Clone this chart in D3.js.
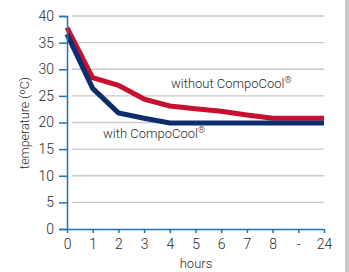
<!DOCTYPE html>
<html>
<head>
<meta charset="utf-8">
<script src="https://cdn.jsdelivr.net/npm/d3@7"></script>
<style>
  body { margin: 0; background: #fff; }
  svg text { font-family: "Roboto", "Liberation Sans Narrow", sans-serif; font-weight: 300; fill: #2a2a2a; }
</style>
</head>
<body>
<svg id="chart" width="349" height="272"></svg>
<script>
// chart data
const hours = ['0', '1', '2', '3', '4', '5', '6', '7', '8', '-', '24'];
const withoutCool = [37.8, 28.4, 27.0, 24.4, 23.1, 22.6, 22.1, 21.4, 20.8, 20.8, 20.8];
const withCool = [36.6, 26.4, 21.8, 20.8, 19.9, 19.9, 19.9, 19.9, 19.9, 19.9, 19.9];
const yTicks = [0, 5, 10, 15, 20, 25, 30, 35, 40];

const svg = d3.select('#chart');
const axisColor = '#1b75bb';

// gray bar on the right edge
svg.append('rect')
    .attr('x', 345).attr('y', 0)
    .attr('width', 4).attr('height', 272)
    .attr('fill', '#c7c7cb');

const x = d3.scalePoint()
    .domain(hours)
    .range([67, 324]);

const y = d3.scaleLinear()
    .domain([0, 40])
    .range([229, 16]);

// gridlines
svg.append('g')
    .selectAll('line')
    .data(yTicks.filter(d => d > 0))
    .enter().append('line')
        .attr('x1', 72).attr('x2', 324)
        .attr('y1', d => y(d)).attr('y2', d => y(d))
        .attr('stroke', '#c9c9c9')
        .attr('stroke-width', 1.3);

// lines
const line = d3.line()
    .x((d, i) => x(hours[i]))
    .y(d => y(d));

svg.append('path')
    .datum(withoutCool)
    .attr('d', line)
    .attr('fill', 'none')
    .attr('stroke', '#c8102e')
    .attr('stroke-width', 5);

svg.append('path')
    .datum(withCool)
    .attr('d', line)
    .attr('fill', 'none')
    .attr('stroke', '#0d2d6c')
    .attr('stroke-width', 5);

// y axis
const yAxis = svg.append('g')
    .attr('transform', 'translate(67,0)')
    .call(d3.axisLeft(y).tickValues(yTicks).tickSize(8).tickPadding(5));
yAxis.select('.domain').attr('stroke', axisColor).attr('stroke-width', 1.5);
yAxis.selectAll('.tick line').attr('stroke', axisColor).attr('stroke-width', 1.5);
yAxis.selectAll('.tick text').attr('font-size', 14).attr('fill', '#2a2a2a');

// x axis
const xAxis = svg.append('g')
    .attr('transform', 'translate(0,229)')
    .call(d3.axisBottom(x).tickSize(4).tickSizeOuter(0).tickPadding(6));
xAxis.select('.domain').attr('stroke', axisColor).attr('stroke-width', 1.5);
xAxis.selectAll('.tick line').attr('stroke', axisColor).attr('stroke-width', 1.5);
xAxis.selectAll('.tick text').attr('font-size', 14).attr('fill', '#2a2a2a');

// axis titles
svg.append('text')
    .attr('x', 196).attr('y', 268)
    .attr('text-anchor', 'middle')
    .attr('font-size', 13)
    .text('hours');

svg.append('text')
    .attr('transform', 'translate(29,123) rotate(-90)')
    .attr('text-anchor', 'middle')
    .attr('font-size', 12.5)
    .text('temperature (ºC)');

// series labels
function seriesLabel(px, py, name) {
    const t = svg.append('text')
        .attr('x', px).attr('y', py)
        .attr('font-size', 13);
    t.append('tspan').text(name);
    t.append('tspan').attr('font-size', 9).attr('dy', -5).text('®');
}
seriesLabel(171, 88, 'without CompoCool');
seriesLabel(103, 138, 'with CompoCool');
</script>
</body>
</html>
